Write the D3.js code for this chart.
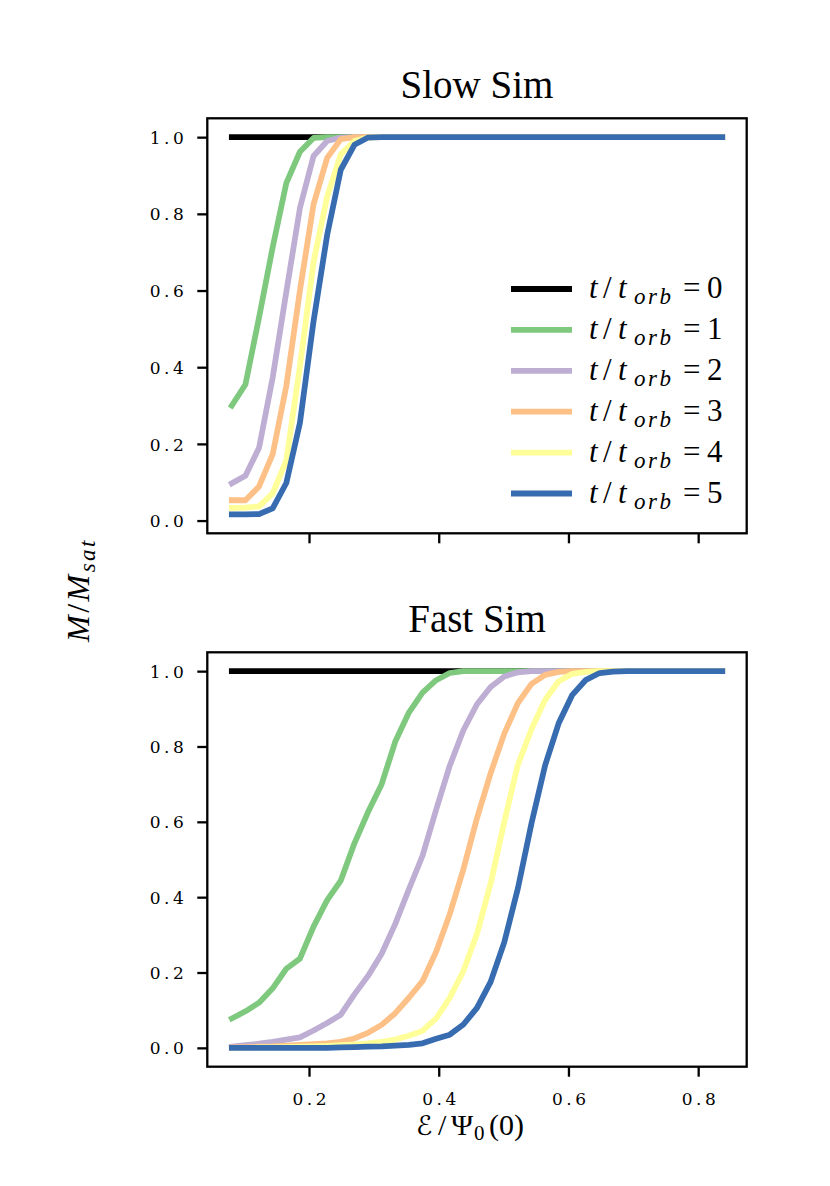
<!DOCTYPE html>
<html><head><meta charset="utf-8">
<script src="https://cdnjs.cloudflare.com/ajax/libs/d3/7.8.5/d3.min.js"></script>
<style>body{margin:0;background:#fff}</style>
</head><body>
<svg id="chart" width="830" height="1186"></svg>
<script>
// ---------- data ----------
const energy = [0.081,0.102,0.123,0.144,0.165,0.186,0.207,0.228,0.249,0.270,
                0.291,0.312,0.333,0.354,0.375,0.396,0.417,0.438,0.459,0.480,
                0.501,0.522,0.543,0.564,0.585,0.606,0.627,0.648,0.669,0.690,
                0.711,0.732,0.753,0.774,0.795,0.816,0.837];

const seriesLabels = ["0","1","2","3","4","5"];
const seriesColors = ["#000000","#7fc97f","#beaed4","#fdc086","#ffff99","#386cb0"];

// Slow Sim
const slowT0 = [1,1,1,1,1,1,1,1,1,1, 1,1,1,1,1,1,1,1,1,1, 1,1,1,1,1,1,1,1,1,1, 1,1,1,1,1,1,1];
const slowT1 = [0.300,0.355,0.530,0.713,0.880,0.962,0.998,1,1,1, 1,1,1,1,1,1,1,1,1,1, 1,1,1,1,1,1,1,1,1,1, 1,1,1,1,1,1,1];
const slowT2 = [0.097,0.117,0.190,0.373,0.596,0.815,0.951,0.990,0.999,1, 1,1,1,1,1,1,1,1,1,1, 1,1,1,1,1,1,1,1,1,1, 1,1,1,1,1,1,1];
const slowT3 = [0.053,0.053,0.089,0.173,0.351,0.600,0.825,0.946,0.995,1, 1,1,1,1,1,1,1,1,1,1, 1,1,1,1,1,1,1,1,1,1, 1,1,1,1,1,1,1];
const slowT4 = [0.033,0.034,0.037,0.071,0.157,0.402,0.674,0.845,0.955,0.990, 0.999,1,1,1,1,1,1,1,1,1, 1,1,1,1,1,1,1,1,1,1, 1,1,1,1,1,1,1];
const slowT5 = [0.016,0.016,0.017,0.032,0.098,0.255,0.520,0.745,0.915,0.980, 0.999,1,1,1,1,1,1,1,1,1, 1,1,1,1,1,1,1,1,1,1, 1,1,1,1,1,1,1];

// Fast Sim
const fastT0 = [1,1,1,1,1,1,1,1,1,1, 1,1,1,1,1,1,1,1,1,1, 1,1,1,1,1,1,1,1,1,1, 1,1,1,1,1,1,1];
const fastT1 = [0.078,0.097,0.120,0.158,0.210,0.237,0.322,0.392,0.444,0.543, 0.626,0.700,0.813,0.890,0.943,0.976,0.995,1,1,1, 1,1,1,1,1,1,1,1,1,1, 1,1,1,1,1,1,1];
const fastT2 = [0.003,0.007,0.011,0.016,0.022,0.028,0.046,0.066,0.088,0.142, 0.191,0.250,0.329,0.421,0.510,0.632,0.749,0.843,0.912,0.958, 0.986,0.997,1,1,1,1,1,1,1,1, 1,1,1,1,1,1,1];
const fastT3 = [0.001,0.002,0.003,0.004,0.006,0.008,0.010,0.012,0.016,0.025, 0.040,0.061,0.092,0.133,0.177,0.255,0.355,0.474,0.610,0.729, 0.834,0.915,0.966,0.990,0.998,1,1,1,1,1, 1,1,1,1,1,1,1];
const fastT4 = [0.000,0.000,0.001,0.001,0.002,0.003,0.004,0.005,0.007,0.009, 0.012,0.016,0.022,0.032,0.045,0.078,0.133,0.204,0.303,0.436, 0.600,0.751,0.846,0.924,0.973,0.993,0.998,1,1,1, 1,1,1,1,1,1,1];
const fastT5 = [0.000,0.000,0.000,0.000,0.000,0.000,0.000,0.000,0.001,0.002, 0.003,0.004,0.006,0.008,0.012,0.024,0.035,0.062,0.106,0.175, 0.280,0.423,0.596,0.750,0.862,0.937,0.977,0.995,0.999,1, 1,1,1,1,1,1,1];

const yTicks = [0.0,0.2,0.4,0.6,0.8,1.0];
const xTicks = [0.2,0.4,0.6,0.8];
const panelTitles = ["Slow Sim","Fast Sim"];

// ---------- drawing ----------
const SERIF = "'Liberation Serif','DejaVu Serif',serif";
const TICKF = "'DejaVu Serif',serif";
const svg = d3.select("#chart");
svg.append("rect").attr("width",830).attr("height",1186).attr("fill","#fff");

const L = 207.3, R = 746.7;
const LW = 5.76, SPW = 2.3;

const xExt = d3.extent(energy);
const xPad = 0.05*(xExt[1]-xExt[0]);
const x = d3.scaleLinear().domain([xExt[0]-xPad, xExt[1]+xPad]).range([L,R]);

const panels = [
  {title:panelTitles[0], top:118.3, bottom:533.3, data:[slowT0,slowT1,slowT2,slowT3,slowT4,slowT5], xlabels:false, legend:true},
  {title:panelTitles[1], top:652.3, bottom:1066.7, data:[fastT0,fastT1,fastT2,fastT3,fastT4,fastT5], xlabels:true, legend:false}
];

panels.forEach(p=>{
  const ext = d3.extent(p.data.flat());
  const pad = 0.05*(ext[1]-ext[0]);
  const y = d3.scaleLinear().domain([ext[0]-pad, ext[1]+pad]).range([p.bottom,p.top]);
  const g = svg.append("g");

  const line = d3.line().x((d,i)=>x(energy[i])).y(d=>y(d));
  p.data.forEach((s,k)=>{
    g.append("path").attr("d",line(s)).attr("fill","none")
      .attr("stroke",seriesColors[k]).attr("stroke-width",LW)
      .attr("stroke-linecap","square").attr("stroke-linejoin","round");
  });

  // y axis
  const ya = g.append("g").attr("transform",`translate(${L},0)`)
    .call(d3.axisLeft(y).tickValues(yTicks).tickSize(10).tickFormat(d3.format(".1f")));
  ya.select(".domain").remove();
  ya.selectAll(".tick line").attr("stroke","#000").attr("stroke-width",SPW);
  ya.selectAll(".tick text").attr("x",-20).attr("dy","0.36em")
    .attr("font-family",TICKF).attr("font-size",17).attr("letter-spacing",3.5).attr("fill","#000");

  // x axis
  const xa = g.append("g").attr("transform",`translate(0,${p.bottom})`)
    .call(d3.axisBottom(x).tickValues(xTicks).tickSize(10).tickFormat(p.xlabels? d3.format(".1f") : ""));
  xa.select(".domain").remove();
  xa.selectAll(".tick line").attr("stroke","#000").attr("stroke-width",SPW);
  xa.selectAll(".tick text").attr("y",38.5).attr("dy",0).attr("dx",1.75)
    .attr("font-family",TICKF).attr("font-size",17).attr("letter-spacing",3.5).attr("fill","#000");

  // spines
  g.append("rect").attr("x",L).attr("y",p.top).attr("width",R-L).attr("height",p.bottom-p.top)
    .attr("fill","none").attr("stroke","#000").attr("stroke-width",SPW);

  // title
  g.append("text").attr("x",(L+R)/2).attr("y",p.top-20).attr("text-anchor","middle")
    .attr("font-family",SERIF).attr("font-size",39).attr("fill","#000").text(p.title);

  if(p.legend){
    const rowY = [289,329.9,370.8,411.7,452.6,493.5];
    seriesLabels.forEach((lab,k)=>{
      const ly = rowY[k];
      g.append("line").attr("x1",511).attr("x2",572).attr("y1",ly).attr("y2",ly)
        .attr("stroke",seriesColors[k]).attr("stroke-width",LW);
      const t = g.append("text").attr("y",ly+9).attr("font-family",SERIF).attr("font-size",31).attr("fill","#000");
      t.append("tspan").attr("x",589).attr("font-style","italic").text("t");
      t.append("tspan").attr("x",603).text("/");
      t.append("tspan").attr("x",618).attr("font-style","italic").text("t");
      t.append("tspan").attr("x",634).attr("dy",6).attr("font-size",23).attr("font-style","italic").attr("letter-spacing",2.5).text("orb");
      t.append("tspan").attr("x",683).attr("dy",-6).text("=");
      t.append("tspan").attr("x",707).text(lab);
    });
  }
});

// x label
const xl = svg.append("text").attr("y",1135).attr("font-family",SERIF).attr("font-size",30).attr("fill","#000");
xl.append("tspan").attr("x",416).attr("font-family","'DejaVu Serif','DejaVu Sans',serif").attr("font-size",27).text("ℰ");
xl.append("tspan").attr("x",438).text("/");
xl.append("tspan").attr("x",451).text("Ψ");
xl.append("tspan").attr("x",474).attr("dy",5).attr("font-size",21).text("0");
xl.append("tspan").attr("x",489).attr("dy",-5).text("(0)");

// y label
const yl = svg.append("text").attr("transform","translate(89,590) rotate(-90)").attr("text-anchor","middle")
  .attr("font-family",SERIF).attr("font-size",32).attr("fill","#000").attr("letter-spacing",2.5);
yl.append("tspan").attr("font-style","italic").text("M");
yl.append("tspan").text("/");
yl.append("tspan").attr("font-style","italic").text("M");
yl.append("tspan").attr("dy",6).attr("font-size",23).attr("font-style","italic").text("sat");
</script>
</body></html>
